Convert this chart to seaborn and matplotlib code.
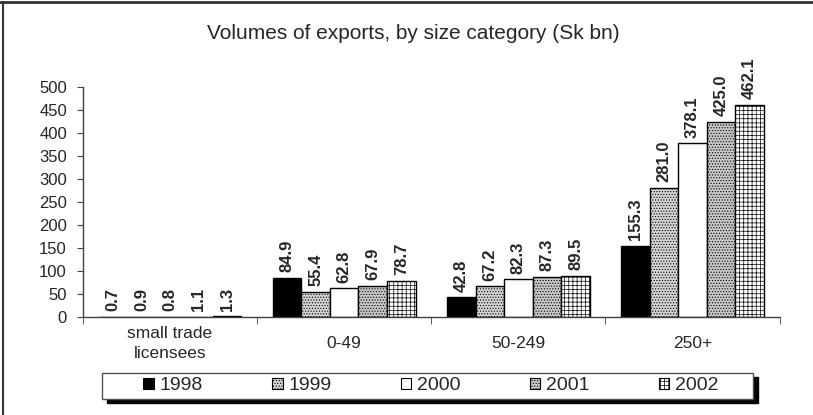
import pandas as pd
import matplotlib
matplotlib.use("Agg")
import matplotlib.pyplot as plt
from matplotlib.lines import Line2D
from matplotlib.patches import Rectangle
import seaborn as sns

# data
categories = ["small trade\nlicensees", "0-49", "50-249", "250+"]
years = ["1998", "1999", "2000", "2001", "2002"]
v1998 = [0.7, 84.9, 42.8, 155.3]
v1999 = [0.9, 55.4, 67.2, 281.0]
v2000 = [0.8, 62.8, 82.3, 378.1]
v2001 = [1.1, 67.9, 87.3, 425.0]
v2002 = [1.3, 78.7, 89.5, 462.1]

series = [v1998, v1999, v2000, v2001, v2002]
rows = []
for yr, vals in zip(years, series):
    for cat, v in zip(categories, vals):
        rows.append({"category": cat, "year": yr, "value": v})
df = pd.DataFrame(rows)

sns.set_style("white")
plt.rcParams['font.family'] = ['Liberation Sans', 'DejaVu Sans']
plt.rcParams['hatch.linewidth'] = 0.5

fig = plt.figure(figsize=(8.13, 4.15), dpi=100)
ax = fig.add_axes([0.102, 0.236, 0.857, 0.554])

sns.barplot(data=df, x="category", y="value", hue="year", order=categories,
            hue_order=years, width=0.82, edgecolor="black", linewidth=1,
            legend=False, ax=ax)

# fill styles per year
styles = {
    "1998": ("black", None),
    "1999": ("#d4d4d4", "......"),
    "2000": ("white", None),
    "2001": ("#c8c8c8", "......"),
    "2002": ("white", "++++"),
}
for yr, cont in zip(years, ax.containers):
    fc, hatch = styles[yr]
    for bar in cont:
        bar.set_facecolor(fc)
        bar.set_edgecolor("black")
        bar.set_hatch(hatch)
    ax.bar_label(cont, fmt="%.1f", rotation=90, padding=4,
                 fontsize=12, fontweight="bold")

ax.set_ylim(0, 500)
ax.set_xlim(-0.5, 3.5)
ax.set_yticks(range(0, 501, 50))
ax.set_xticks(range(len(categories)))
ax.set_xticklabels(categories)
ax.set_xticks([-0.5, 0.5, 1.5, 2.5, 3.5], minor=True)
ax.tick_params(axis="x", which="major", length=0, pad=19, labelsize=12.5)
ax.tick_params(axis="x", which="minor", length=5, direction="out",
               color="#404040", bottom=True)
ax.tick_params(axis="y", length=4.5, direction="out", color="#404040",
               pad=7, labelsize=12, left=True)
for lbl in ax.get_xticklabels():
    lbl.set_va("center")
    lbl.set_multialignment("center")
    lbl.set_linespacing(1.4)
ax.set_xlabel("")
ax.set_ylabel("")
for s in ["top", "right"]:
    ax.spines[s].set_visible(False)
for s in ["left", "bottom"]:
    ax.spines[s].set_color("#404040")
    ax.spines[s].set_linewidth(1)

fig.text(0.508, 0.92, "Volumes of exports, by size category (Sk bn)",
         ha="center", va="center", fontsize=15)

# legend box with black shadow
x0, y0, w, h = 0.1255, 0.0386, 0.8007, 0.0627
fig.add_artist(Rectangle((x0 + 5 / 813, y0 - 4 / 415), w, h,
                         transform=fig.transFigure, facecolor="black",
                         edgecolor="black", zorder=1))
fig.add_artist(Rectangle((x0, y0), w, h, transform=fig.transFigure,
                         facecolor="white", edgecolor="#505050", lw=1,
                         zorder=2))
handles = []
for yr in years:
    fc, hatch = styles[yr]
    handles.append(Rectangle((0, 0), 1, 1, facecolor=fc, edgecolor="black",
                             hatch=hatch, lw=0.8))
leg = fig.legend(handles, years, loc="center", ncol=5, frameon=False,
                 bbox_to_anchor=(0.53, 0.07), fontsize=14, handlelength=0.55,
                 handleheight=0.55, handletextpad=0.3, columnspacing=3.55)
leg.set_zorder(3)

# thin frame at top and left of the picture
fig.add_artist(Line2D([0, 1], [0.995, 0.995], transform=fig.transFigure,
                      color="#333333", lw=2))
fig.add_artist(Line2D([0.004, 0.004], [0, 0.995], transform=fig.transFigure,
                      color="#333333", lw=1.5))

fig.savefig("out.png", dpi=100)
